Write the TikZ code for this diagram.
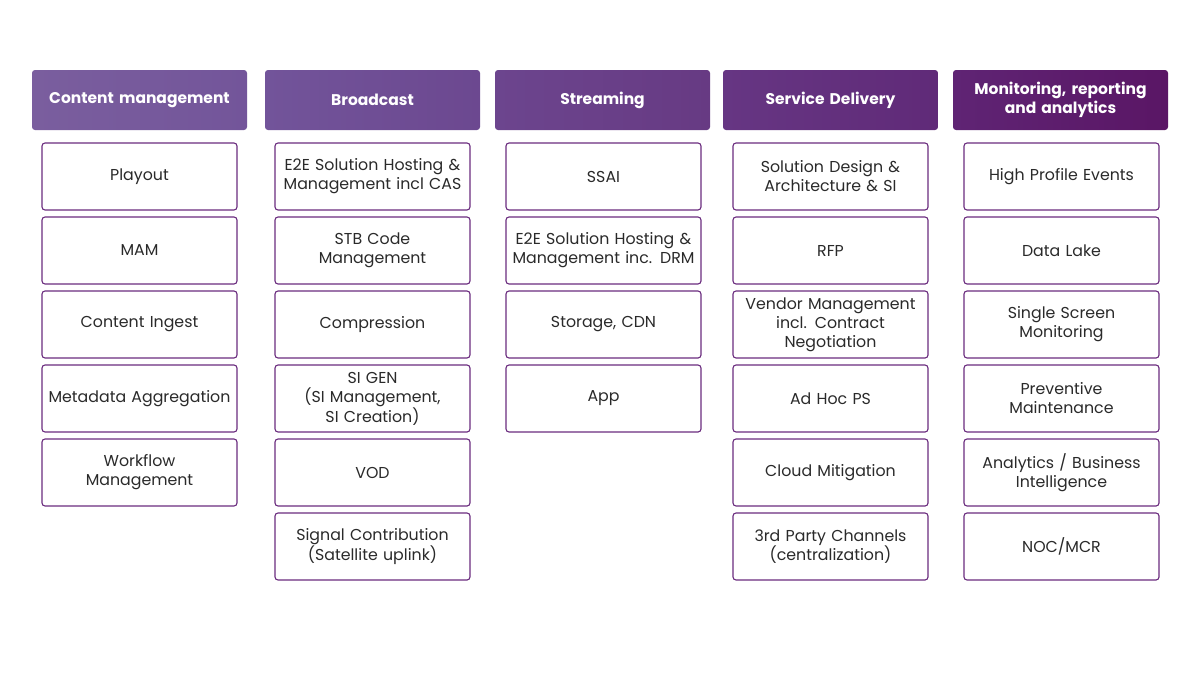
\documentclass[tikz,border=0pt]{standalone}
\usepackage{fontspec}
\setmainfont{Poppins}
\definecolor{txt}{HTML}{2A2A2A}
\definecolor{edge}{HTML}{6A2C7E}
\definecolor{hAl}{HTML}{7A5E9E}\definecolor{hAr}{HTML}{73559A}
\definecolor{hBl}{HTML}{72549A}\definecolor{hBr}{HTML}{6C4890}
\definecolor{hCl}{HTML}{6C458E}\definecolor{hCr}{HTML}{673A83}
\definecolor{hDl}{HTML}{663683}\definecolor{hDr}{HTML}{602A78}
\definecolor{hEl}{HTML}{5F2474}\definecolor{hEr}{HTML}{5A1665}
\tikzset{
  hdr/.style={minimum width=215pt, minimum height=60pt, rounded corners=3pt, text=white,
    font=\fontsize{15.5}{19}\selectfont\bfseries, align=center, text width=210pt, inner sep=0pt},
  item/.style={draw=edge, line width=1.1pt, rounded corners=3pt, fill=white, minimum width=195pt, minimum height=67pt,
    text=txt, font=\fontsize{15.8}{19}\selectfont, align=center, text width=192pt, inner sep=0pt}
}
\begin{document}
\begin{tikzpicture}[x=1pt,y=-1pt]
\useasboundingbox[fill=white] (0,0) rectangle (1200,675);
% headers
\node[hdr, left color=hAl, right color=hAr] (h1) at (139.5,100) {Content management};
\node[hdr, left color=hBl, right color=hBr] (h2) at (372.5,100) {Broadcast};
\node[hdr, left color=hCl, right color=hCr] (h3) at (602.5,100) {Streaming};
\node[hdr, left color=hDl, right color=hDr] (h4) at (830.5,100) {Service Delivery};
\node[hdr, left color=hEl, right color=hEr] (h5) at (1060.5,100) {Monitoring, reporting\\and analytics};
% column 1
\node[item] (a1) at (139.5,176.5) {Playout};
\node[item] (a2) at (139.5,250.5) {MAM};
\node[item] (a3) at (139.5,324.5) {Content Ingest};
\node[item] (a4) at (139.5,398.5) {Metadata Aggregation};
\node[item] (a5) at (139.5,472.5) {Workflow\\Management};
% column 2
\node[item] (b1) at (372.5,176.5) {E2E Solution Hosting \&\\Management incl CAS};
\node[item] (b2) at (372.5,250.5) {STB Code\\Management};
\node[item] (b3) at (372.5,324.5) {Compression};
\node[item] (b4) at (372.5,398.5) {SI GEN\\(SI Management,\\SI Creation)};
\node[item] (b5) at (372.5,472.5) {VOD};
\node[item] (b6) at (372.5,546.5) {Signal Contribution\\(Satellite uplink)};
% column 3
\node[item] (c1) at (603.5,176.5) {SSAI};
\node[item] (c2) at (603.5,250.5) {E2E Solution Hosting \&\\Management inc. DRM};
\node[item] (c3) at (603.5,324.5) {Storage, CDN};
\node[item] (c4) at (603.5,398.5) {App};
% column 4
\node[item] (d1) at (830.5,176.5) {Solution Design \&\\Architecture \& SI};
\node[item] (d2) at (830.5,250.5) {RFP};
\node[item] (d3) at (830.5,324.5) {Vendor Management\\incl. Contract\\Negotiation};
\node[item] (d4) at (830.5,398.5) {Ad Hoc PS};
\node[item] (d5) at (830.5,472.5) {Cloud Mitigation};
\node[item] (d6) at (830.5,546.5) {3rd Party Channels\\(centralization)};
% column 5
\node[item] (e1) at (1061.5,176.5) {High Profile Events};
\node[item] (e2) at (1061.5,250.5) {Data Lake};
\node[item] (e3) at (1061.5,324.5) {Single Screen\\Monitoring};
\node[item] (e4) at (1061.5,398.5) {Preventive\\Maintenance};
\node[item] (e5) at (1061.5,472.5) {Analytics / Business\\Intelligence};
\node[item] (e6) at (1061.5,546.5) {NOC/MCR};
\end{tikzpicture}
\end{document}
